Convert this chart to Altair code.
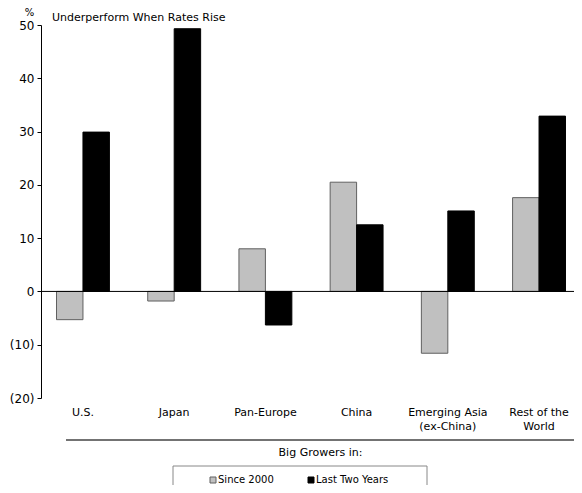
import altair as alt
import pandas as pd

categories = ["U.S.", "Japan", "Pan-Europe", "China", "Emerging Asia\n(ex-China)", "Rest of the\nWorld"]
series_names = ["Since 2000", "Last Two Years"]
since_2000 = [-5.3, -1.8, 8.0, 20.5, -11.6, 17.6]
last_two_years = [29.9, 49.3, -6.3, 12.5, 15.1, 32.9]
y_ticks = [-20, -10, 0, 10, 20, 30, 40, 50]
title_text = "Underperform When Rates Rise"

rows = []
for c, a, b in zip(categories, since_2000, last_two_years):
    rows.append({"cat": c, "series": series_names[0], "value": a})
    rows.append({"cat": c, "series": series_names[1], "value": b})
df = pd.DataFrame(rows)

FONT = "DejaVu Sans"

legend = alt.Legend(title=None, orient="none", legendX=167, legendY=450,
                    direction="horizontal", symbolType="square", symbolSize=36,
                    symbolStrokeWidth=1, labelOffset=0, columnPadding=32,
                    labelFontSize=10, labelColor="black", padding=0)

bars = alt.Chart(df).mark_bar(strokeWidth=1).encode(
    x=alt.X("cat:N", sort=categories,
            scale=alt.Scale(paddingInner=0.42, paddingOuter=0.17, range=[0, 540]),
            axis=alt.Axis(title="Big Growers in:", domain=False, ticks=False, tickSize=0,
                          labelAngle=0, labelPadding=8, labelFontSize=11, labelColor="black",
                          labelExpr="split(datum.label, '\\n')", labelLineHeight=14,
                          titleFontWeight="normal", titleFontSize=11, titleColor="black",
                          titleX=279, titleY=54, titleAlign="center", titleBaseline="middle")),
    xOffset=alt.XOffset("series:N", sort=series_names, scale=alt.Scale(paddingInner=0, paddingOuter=0)),
    y=alt.Y("value:Q", scale=alt.Scale(domain=[-20, 50], nice=False),
            axis=alt.Axis(values=y_ticks, grid=False, title="%", titleAngle=0,
                          titleX=-12, titleY=-13, titleAlign="center", titleBaseline="middle",
                          titleFontWeight="normal", titleFontSize=10, titleColor="black",
                          domainColor="black", tickColor="black", tickSize=4, labelPadding=3,
                          labelFontSize=12, labelColor="black",
                          labelExpr="datum.value < 0 ? '(' + abs(datum.value) + ')' : '' + datum.value")),
    fill=alt.Fill("series:N", sort=series_names,
                  scale=alt.Scale(domain=series_names, range=["#C0C0C0", "#000000"]),
                  legend=legend),
    stroke=alt.Stroke("series:N", sort=series_names,
                      scale=alt.Scale(domain=series_names, range=["#606060", "#000000"]),
                      legend=legend),
)

zero = alt.Chart(pd.DataFrame({"z": [0]})).mark_rule(color="black", strokeWidth=1).encode(y="z:Q")

deco = pd.DataFrame({"k": [0]})
underline = alt.Chart(deco).mark_rule(color="#444444", strokeWidth=1.5).encode(
    x=alt.value(25), x2=alt.value(533), y=alt.value(415))
box = alt.Chart(deco).mark_rect(fillOpacity=0, stroke="#888888", strokeWidth=1).encode(
    x=alt.value(132), x2=alt.value(386), y=alt.value(441), y2=alt.value(495))
title = alt.Chart(pd.DataFrame({"t": [title_text]})).mark_text(
    align="left", baseline="middle", fontSize=11, color="black", font=FONT).encode(
    text="t:N", x=alt.value(11), y=alt.value(-7))

chart = alt.layer(bars, zero, underline, box, title).properties(
    width=533, height=373,
    autosize=alt.AutoSizeParams(type="none"),
    padding={"left": 33, "top": 17, "right": 0, "bottom": 87},
).configure(font=FONT).configure_view(stroke=None)

chart.save("out.html", embed_options={"renderer": "svg", "actions": False})
